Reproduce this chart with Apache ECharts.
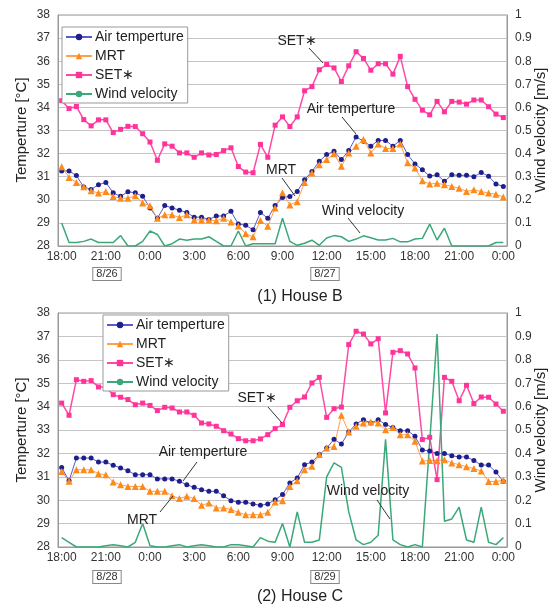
<!DOCTYPE html>
<html>
<head>
<meta charset="utf-8">
<script src="https://cdn.jsdelivr.net/npm/echarts@6/dist/echarts.min.js"></script>
<style>
  html, body { margin: 0; padding: 0; background: #fff; }
  #chart { width: 553px; height: 610px; }
</style>
</head>
<body>
<div id="chart"></div>
<script>
// half-hour steps, 18:00 -> 0:00 (next-next day)
const times = [];
for (let h = 0; h <= 30; h += 0.5) {
    const hh = (18 + Math.floor(h)) % 24;
    times.push(hh + ':' + (h % 1 ? '30' : '00'));
}

// House B
const airB = [31.25, 31.25, 31.05, 30.55, 30.45, 30.65, 30.75, 30.3, 30.15, 30.35, 30.3, 30.15, 29.65, 29.2, 29.75, 29.65, 29.55, 29.45, 29.25, 29.25, 29.15, 29.3, 29.3, 29.5, 28.95, 28.9, 28.7, 29.45, 29.2, 29.75,
    30.1, 30.14, 30.36, 30.87, 31.23, 31.67, 31.96, 32.1, 31.74, 32.13, 32.72, 32.54, 32.32, 32.57, 32.57, 32.32, 32.57, 31.96, 31.55, 31.3, 31.03, 31.08, 30.8, 31.08, 31.06, 31.06, 31.0, 31.18, 31.02, 30.68, 30.58];
const mrtB = [31.43, 30.97, 30.75, 30.57, 30.39, 30.29, 30.36, 30.14, 30.07, 30.07, 30.17, 29.86, 29.74, 29.2, 29.35, 29.35, 29.23, 29.35, 29.13, 29.13, 29.13, 29.09, 29.2, 29.04, 28.87, 28.53, 28.4, 29.1, 28.85, 29.65,
    30.3, 29.78, 29.92, 30.75, 31.16, 31.52, 31.74, 31.99, 31.45, 32.03, 32.32, 32.61, 32.03, 32.42, 32.22, 32.22, 32.42, 31.6, 31.38, 30.82, 30.68, 30.72, 30.65, 30.58, 30.5, 30.36, 30.43, 30.36, 30.29, 30.24, 30.12];
const setB = [34.29, 33.95, 34.04, 33.47, 33.2, 33.46, 33.46, 32.91, 33.05, 33.18, 33.17, 32.86, 32.5, 31.71, 32.42, 32.32, 32.03, 32.03, 31.84, 32.03, 31.94, 31.96, 32.13, 32.25, 31.44, 31.2, 31.17, 32.4, 31.84, 33.23,
    33.59, 33.17, 33.59, 34.72, 34.9, 35.63, 35.86, 35.71, 35.12, 35.8, 36.41, 36.12, 35.61, 35.89, 35.89, 35.44, 36.21, 34.9, 34.35, 33.88, 33.68, 34.26, 33.81, 34.26, 34.23, 34.14, 34.32, 34.32, 34.03, 33.71, 33.56];
const windB = [0.1, 0.015, 0.015, 0.02, 0.03, 0.015, 0.015, 0.015, 0.045, 0, 0, 0.02, 0.065, 0.05, 0, 0.01, 0.03, 0.025, 0.03, 0.03, 0.04, 0.02, 0, 0, 0.065, 0, 0.01, 0.01, 0.01, 0.01,
    0.12, 0.02, 0.003, 0.012, 0.025, 0.003, 0.035, 0.045, 0.04, 0.02, 0.03, 0.044, 0.036, 0.026, 0.026, 0.033, 0.018, 0.018, 0.03, 0.033, 0.095, 0.026, 0.077, 0, 0, 0, 0, 0, 0, 0.015, 0.015];

// House C
const airC = [31.4, 30.83, 31.8, 31.8, 31.8, 31.63, 31.63, 31.49, 31.38, 31.26, 31.09, 31.09, 31.09, 30.91, 30.91, 30.91, 30.81, 30.66, 30.55, 30.45, 30.38, 30.38, 30.19, 29.98, 29.91, 29.91, 29.84, 29.78, 29.84, 30.02,
    30.24, 30.74, 30.95, 31.52, 31.63, 31.95, 32.23, 32.6, 32.4, 32.91, 33.26, 33.44, 33.3, 33.44, 33.23, 33.11, 32.97, 32.97, 32.73, 32.15, 32.1, 32.0, 32.0, 31.9, 31.85, 31.85, 31.7, 31.5, 31.5, 31.2, 30.8];
const mrtC = [31.23, 30.81, 31.3, 31.3, 31.3, 31.13, 31.09, 30.78, 30.66, 30.59, 30.59, 30.59, 30.38, 30.38, 30.38, 30.19, 30.07, 30.17, 30.07, 29.78, 29.88, 29.67, 29.67, 29.6, 29.48, 29.38, 29.38, 29.38, 29.48, 29.92,
    29.98, 30.59, 30.83, 31.3, 31.45, 31.95, 32.23, 32.3, 33.63, 32.91, 33.16, 33.3, 33.34, 33.3, 33.01, 33.11, 32.8, 32.8, 32.52, 31.67, 31.7, 31.69, 31.73, 31.59, 31.52, 31.43, 31.35, 31.25, 30.8, 30.8, 30.85];
const setC = [34.15, 33.63, 35.15, 35.08, 35.11, 34.84, 34.84, 34.51, 34.4, 34.3, 34.08, 34.15, 34.05, 33.83, 33.97, 33.94, 33.77, 33.77, 33.63, 33.3, 33.26, 33.16, 32.97, 32.83, 32.63, 32.54, 32.54, 32.62, 32.8, 33.06,
    33.23, 33.97, 34.25, 34.41, 35.01, 35.25, 33.54, 33.91, 33.98, 36.65, 37.22, 37.1, 36.68, 36.9, 33.73, 36.32, 36.39, 36.25, 35.65, 32.59, 32.69, 30.88, 35.25, 35.08, 34.25, 34.91, 34.13, 34.41, 34.4, 34.11, 33.8];
const windC = [0.04, 0.02, 0, 0, 0, 0, 0.005, 0.01, 0.005, 0, 0.02, 0.1, 0.005, 0, 0, 0.005, 0.01, 0, 0.005, 0.01, 0.005, 0, 0, 0.01, 0.01, 0.005, 0, 0.04, 0.025, 0.02,
    0.1, 0, 0.15, 0.02, 0.02, 0.03, 0.3, 0.36, 0.34, 0.15, 0.03, 0.01, 0.02, 0.05, 0.46, 0.03, 0.01, 0, 0.01, 0, 0.45, 0.91, 0.11, 0.12, 0.17, 0.03, 0.02, 0.17, 0.02, 0.01, 0.04];

const names = ['Air temperture', 'MRT', 'SET\u2217', 'Wind velocity'];
const FONT = 'Liberation Sans, Arial, sans-serif';

const chart = echarts.init(document.getElementById('chart'));

function xAxis(gridIndex) {
    return {
        type: 'category', gridIndex: gridIndex, data: times, boundaryGap: true,
        axisLine: { lineStyle: { color: '#999' } },
        axisTick: { inside: true, alignWithLabel: true, interval: 5, length: 4, lineStyle: { color: '#999' } },
        axisLabel: { interval: 5, color: '#333', fontSize: 12, fontFamily: FONT, margin: 5 },
        splitLine: { show: false }
    };
}
function tempAxis(gridIndex) {
    return {
        type: 'value', gridIndex: gridIndex, min: 28, max: 38, interval: 1, position: 'left',
        axisLine: { show: true, lineStyle: { color: '#999' } },
        axisTick: { show: false },
        axisLabel: { color: '#333', fontSize: 12, fontFamily: FONT, margin: 8 },
        splitLine: { lineStyle: { color: '#c4c4c4' } }
    };
}
function windAxis(gridIndex) {
    return {
        type: 'value', gridIndex: gridIndex, min: 0, max: 1, interval: 0.1, position: 'right',
        axisLine: { show: true, lineStyle: { color: '#999' } },
        axisTick: { show: false },
        axisLabel: { color: '#333', fontSize: 12, fontFamily: FONT, margin: 8 },
        splitLine: { show: false }
    };
}
function seriesFor(idx, air, mrt, set, wind) {
    const x = idx, yT = idx * 2, yW = idx * 2 + 1;
    return [
        { name: names[0], type: 'line', xAxisIndex: x, yAxisIndex: yT, data: air, symbol: 'circle', symbolSize: 5, showAllSymbol: true,
          itemStyle: { color: '#1e1e8c' }, lineStyle: { color: '#5a5ac8', width: 1 } },
        { name: names[1], type: 'line', xAxisIndex: x, yAxisIndex: yT, data: mrt, symbol: 'triangle', symbolSize: 7, showAllSymbol: true,
          itemStyle: { color: '#ff8a1c' }, lineStyle: { color: '#ffa04a', width: 1 } },
        { name: names[2], type: 'line', xAxisIndex: x, yAxisIndex: yT, data: set, symbol: 'rect', symbolSize: 5, showAllSymbol: true,
          itemStyle: { color: '#ff3399' }, lineStyle: { color: '#ff4aa5', width: 1.5 } },
        { name: names[3], type: 'line', xAxisIndex: x, yAxisIndex: yW, data: wind, symbol: 'none',
          itemStyle: { color: '#3aa878' }, lineStyle: { color: '#3aa878', width: 1.5 } }
    ];
}
function legendAt(left, top) {
    return {
        data: names, orient: 'vertical', left: left, top: top, itemWidth: 26, itemHeight: 8, itemGap: 5,
        backgroundColor: '#fff', borderColor: '#999', borderWidth: 1, padding: [3, 4, 2, 3],
        textStyle: { fontSize: 14, color: '#222', fontFamily: FONT, padding: [0, 0, 0, -2] }
    };
}
function note(x, y, text, size, rot) {
    return { type: 'text', x: x, y: y, z: 10, rotation: rot || 0,
        style: { text: text, fill: '#222', font: (size || 14) + 'px ' + FONT, align: 'center', verticalAlign: 'middle' } };
}
function pointer(x1, y1, x2, y2) {
    return { type: 'line', z: 10, shape: { x1: x1, y1: y1, x2: x2, y2: y2 }, style: { stroke: '#333', lineWidth: 1 } };
}
function dateBox(x, y, text) {
    return { type: 'text', x: x, y: y, style: { text: text, fill: '#333', font: '11px ' + FONT, align: 'center', verticalAlign: 'middle',
        borderColor: '#888', borderWidth: 1, padding: [1, 3, 0, 3], backgroundColor: '#fff' } };
}
const UP = Math.PI / 2;

chart.setOption({
    animation: false,
    grid: [
        { left: 58, top: 15, width: 449, height: 231, outerBoundsMode: 'none', show: true, borderColor: '#999', borderWidth: 1 },
        { left: 58, top: 313, width: 449, height: 234, outerBoundsMode: 'none', show: true, borderColor: '#999', borderWidth: 1 }
    ],
    xAxis: [xAxis(0), xAxis(1)],
    yAxis: [tempAxis(0), windAxis(0), tempAxis(1), windAxis(1)],
    legend: [legendAt(62, 27), legendAt(103, 315)],
    series: seriesFor(0, airB, mrtB, setB, windB).concat(seriesFor(1, airC, mrtC, setC, windC)),
    graphic: [
        // axis titles
        note(22, 130, 'Temperture [\u00b0C]', 15, UP), note(541, 130, 'Wind velocity [m/s]', 15, UP),
        note(22, 430, 'Temperture [\u00b0C]', 15, UP), note(541, 430, 'Wind velocity [m/s]', 15, UP),
        // House B notes
        note(297, 41, 'SET\u2217'), pointer(309, 48, 323, 63),
        note(351, 109, 'Air temperture'), pointer(342, 117, 356, 134),
        note(281, 170, 'MRT'), pointer(282, 178, 295, 196),
        note(363, 211, 'Wind velocity'), pointer(348, 218, 360, 233),
        dateBox(107, 274, '8/26'), dateBox(325, 274, '8/27'),
        note(300, 297, '(1) House B', 16),
        // House C notes
        note(257, 398, 'SET\u2217'), pointer(268, 407, 282, 423),
        note(203, 452, 'Air temperture'), pointer(197, 462, 183, 481),
        note(142, 520, 'MRT'), pointer(160, 512, 173, 496),
        note(368, 491, 'Wind velocity'), pointer(377, 500, 390, 519),
        dateBox(107, 577, '8/28'), dateBox(325, 577, '8/29'),
        note(300, 597, '(2) House C', 16)
    ]
});
</script>
</body>
</html>
